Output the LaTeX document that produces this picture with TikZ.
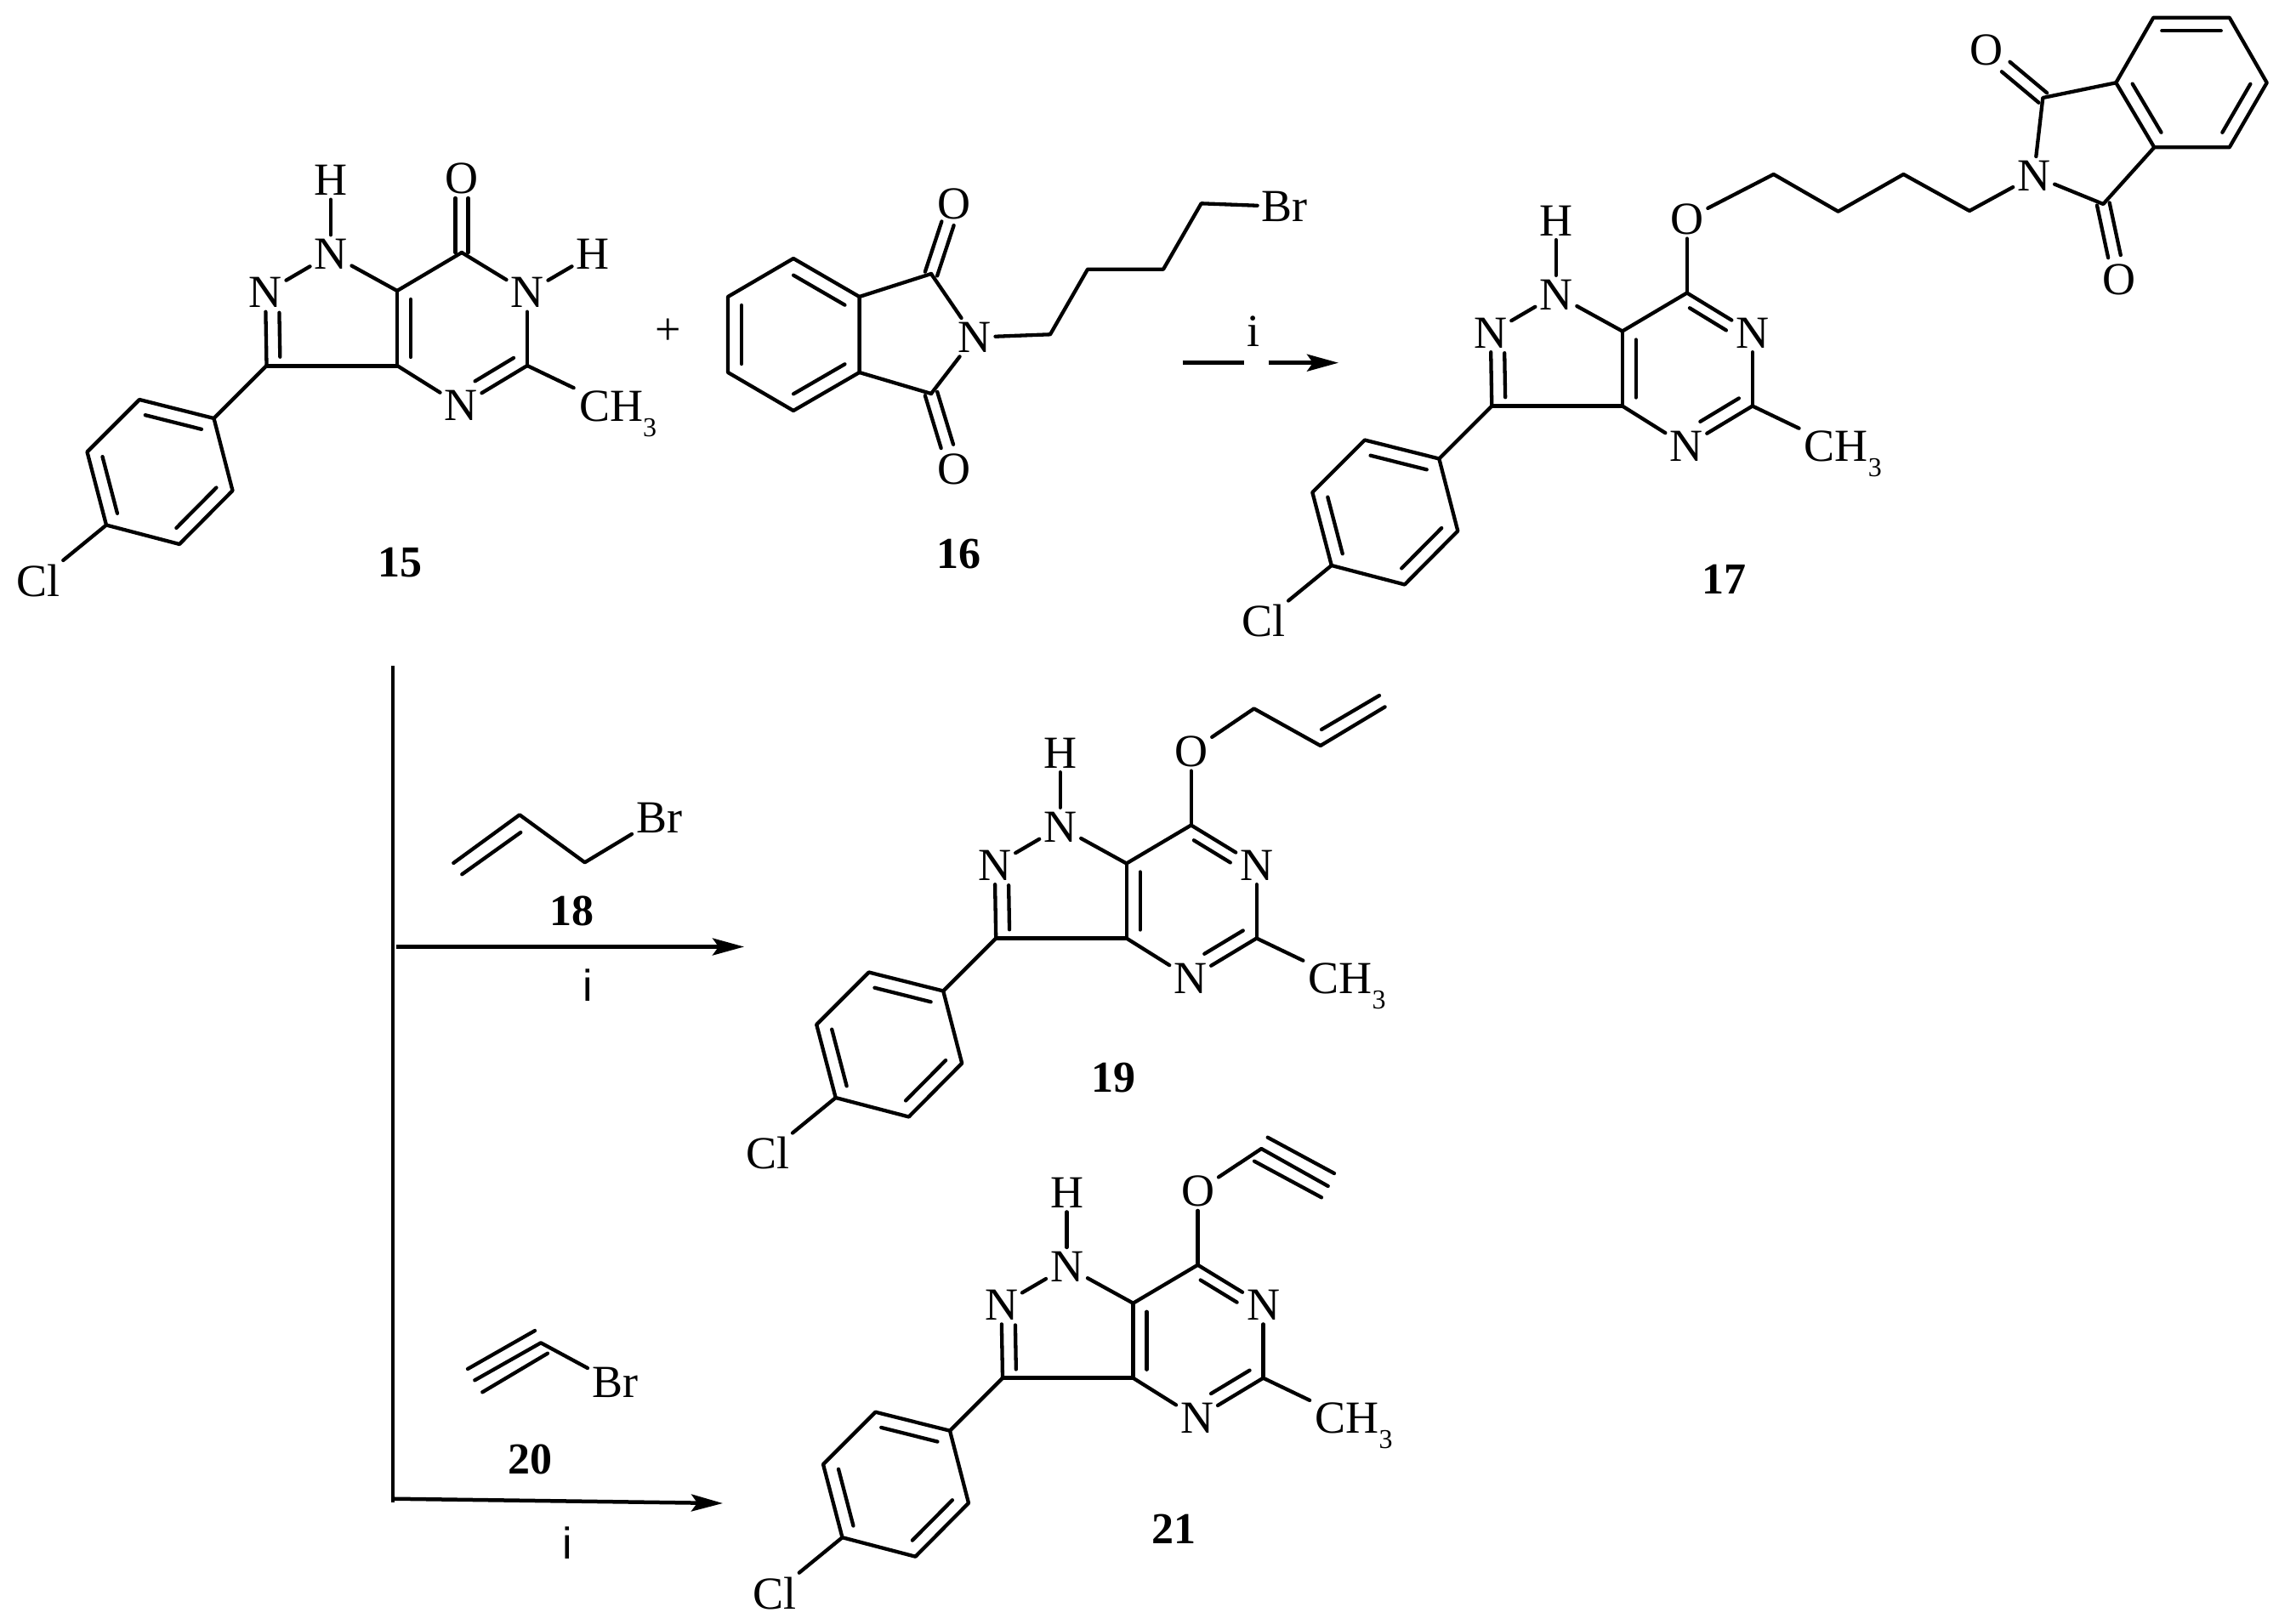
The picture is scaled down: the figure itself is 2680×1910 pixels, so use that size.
\documentclass[tikz,border=0pt]{standalone}
\usepackage{fontspec}
\setmainfont{Liberation Serif}
\newfontfamily\condsans{Liberation Sans}
\usetikzlibrary{calc,arrows.meta}
\newcommand\atomfont{\fontsize{54}{60}\selectfont}
\newcommand\methylthree{\raisebox{-18pt}{\fontsize{32}{32}\selectfont 3}}
\tikzset{
  bond/.style={line width=4.3pt,line cap=round,line join=round,black},
  heavybond/.style={line width=5pt,line cap=round,black},
  atom/.style={rectangle,inner sep=5pt,outer sep=0pt,font=\atomfont},
  methyl/.style={anchor=base west,rectangle,inner sep=0pt,outer sep=0pt,font=\atomfont},
  cpdlabel/.style={inner sep=0pt,font=\fontsize{52}{56}\selectfont\bfseries},
  condition/.style={inner sep=0pt,font=\atomfont},
  condsansnode/.style={inner sep=0pt,font=\fontsize{52}{56}\selectfont\condsans},
  branch/.style={line width=4pt,black},
  reaction/.style={line width=4.5pt,black,-{Stealth[length=37pt,width=20pt,inset=7pt]}}
}
% inner line of a double bond: from, to, offset, shorten start, shorten end
\newcommand\innerbond[5]{\draw[bond,shorten <=#4pt,shorten >=#5pt] ($(#1)!#3pt!90:(#2)$) -- ($(#2)!#3pt!-90:(#1)$);}
% symmetric double bond: from, to, shorten end
\newcommand\dblsym[3]{%
  \draw[bond,shorten >=#3pt] ($(#1)!7.5pt!90:(#2)$) -- ($(#2)!7.5pt!-90:(#1)$);
  \draw[bond,shorten >=#3pt] ($(#1)!7.5pt!-90:(#2)$) -- ($(#2)!7.5pt!90:(#1)$);}
% common pyrazolopyrimidine with chlorophenyl group
\newcommand\pyrcore[3]{%
  \begin{scope}[shift={(#2,#3)}]
    \coordinate (#1C3a) at (0,0);
    \coordinate (#1C3) at (-153.5,0);
    \coordinate (#1C7a) at (0,-88);
    \coordinate (#1C7) at (76,-133);
    \coordinate (#1C5) at (153,0);
    \coordinate (#1a) at (-215.5,62);
    \coordinate (#1b) at (-303,40);
    \coordinate (#1c) at (-364.5,101.5);
    \coordinate (#1d) at (-342,187.5);
    \coordinate (#1e) at (-256,210);
    \coordinate (#1f) at (-193.5,147);
    \node[atom] (#1N1) at (-78,-131) {N};
    \node[atom] (#1N2) at (-155,-86) {N};
    \node[atom] (#1H) at (-78,-218) {H};
    \node[atom] (#1N4) at (75,47) {N};
    \node[atom] (#1N6) at (153,-86) {N};
    \node[atom] (#1O) at (76,-220) {O};
    \node[atom] (#1Cl) at (-422,253) {Cl};
    \node[methyl] (#1Me) at (214,65) {CH\methylthree};
  \end{scope}
  \draw[bond] (#1H) -- (#1N1);
  \draw[bond] (#1N1) -- (#1N2);
  \draw[bond] (#1N1) -- (#1C7a);
  \draw[bond] (#1C7a) -- (#1C7);
  \draw[bond] (#1N2) -- (#1C3);
  \innerbond{#1N2}{#1C3}{16}{24}{10}
  \draw[heavybond] (#1C3) -- (#1C3a);
  \draw[bond] (#1C7a) -- (#1C3a);
  \innerbond{#1C7a}{#1C3a}{16}{10}{10}
  \draw[bond] (#1C3a) -- (#1N4);
  \draw[bond] (#1C5) -- (#1N4);
  \innerbond{#1C5}{#1N4}{-16}{9}{29}
  \draw[bond] (#1N6) -- (#1C5);
  \draw[bond,shorten >=7pt] (#1C5) -- (#1Me.north west);
  \draw[bond] (#1C3) -- (#1a);
  \draw[bond] (#1a) -- (#1b) -- (#1c) -- (#1d) -- (#1e) -- (#1f) -- cycle;
  \innerbond{#1a}{#1b}{16}{11}{11}
  \innerbond{#1c}{#1d}{16}{10}{10}
  \innerbond{#1e}{#1f}{16}{11}{11}
  \draw[bond] (#1d) -- (#1Cl);
}
\begin{document}
\begin{tikzpicture}[x=1pt,y=-1pt]
\useasboundingbox (0,0) rectangle (2680,1910);

% ---------- compound 15
\pyrcore{p}{467}{430}
\node[atom] (pH6) at (697,299) {H};
\draw[bond] (pN6) -- (pH6);
\draw[bond] (pC7) -- (pN6);
\dblsym{pC7}{pO}{23}
\node[cpdlabel] (l15) at (470,662) {15};
\node[condition] (plus) at (786,390) {+};

% ---------- compound 16
\coordinate (qC1) at (1095,322);
\coordinate (qC3) at (1095,463);
\coordinate (qa) at (1010.6,349);
\coordinate (qb) at (933,304);
\coordinate (qc) at (856,349);
\coordinate (qd) at (856,438);
\coordinate (qe) at (933,483);
\coordinate (qf) at (1010.6,438);
\coordinate (qs1) at (1235,393.3);
\coordinate (qs2) at (1279,316.7);
\coordinate (qs3) at (1368,316.7);
\coordinate (qs4) at (1412.6,239.3);
\node[atom] (qN) at (1146,396.7) {N};
\node[atom] (qO1) at (1122,240) {O};
\node[atom] (qO2) at (1122,551.7) {O};
\node[atom] (qBr) at (1510.6,243) {Br};
\node[cpdlabel] (l16) at (1127,652) {16};
\draw[bond] (qa) -- (qb) -- (qc) -- (qd) -- (qe) -- (qf) -- cycle;
\innerbond{qa}{qb}{17}{10}{10}
\innerbond{qc}{qd}{16}{10}{10}
\innerbond{qe}{qf}{17}{10}{10}
\draw[bond] (qa) -- (qC1);
\draw[bond] (qf) -- (qC3);
\draw[bond] (qC1) -- (qN);
\draw[bond] (qC3) -- (qN);
\dblsym{qC1}{qO1}{24}
\dblsym{qC3}{qO2}{28}
\draw[bond] (qN) -- (qs1) -- (qs2) -- (qs3) -- (qs4) -- (qBr);

% ---------- first arrow
\coordinate (ar1a) at (1390.7,426.7);
\coordinate (ar1b) at (1462.7,426.7);
\coordinate (ar1c) at (1491.7,426.7);
\coordinate (ar1d) at (1574,426.7);
\draw[line width=4.5pt] (ar1a) -- (ar1b);
\draw[reaction] (ar1c) -- (ar1d);
\node[condition] (i1) at (1474,390) {i};

% ---------- compound 17
\pyrcore{r}{1907.8}{477.5}
\draw[bond] (rC7) -- (rO);
\draw[bond] (rC7) -- (rN6);
\innerbond{rC7}{rN6}{-13.5}{12}{28}
\coordinate (rs1) at (2085.7,205);
\coordinate (rs2) at (2161.6,248.7);
\coordinate (rs3) at (2238.4,205);
\coordinate (rs4) at (2316,248);
\node[atom] (rNp) at (2391.7,206.7) {N};
\coordinate (rCa) at (2402.3,115);
\coordinate (rCb) at (2473.3,240);
\node[atom] (rOa) at (2335.7,59.3) {O};
\node[atom] (rOb) at (2492.3,329) {O};
\coordinate (rr1) at (2488.3,97.3);
\coordinate (rr2) at (2532.3,20.7);
\coordinate (rr3) at (2621.7,20.7);
\coordinate (rr4) at (2665.7,97.3);
\coordinate (rr5) at (2621.7,173.3);
\coordinate (rr6) at (2533.3,173.3);
\draw[bond] (rO) -- (rs1) -- (rs2) -- (rs3) -- (rs4) -- (rNp);
\draw[bond] (rNp) -- (rCa) -- (rr1);
\draw[bond] (rNp) -- (rCb) -- (rr6);
\dblsym{rCa}{rOa}{30}
\dblsym{rCb}{rOb}{28}
\draw[bond] (rr1) -- (rr2) -- (rr3) -- (rr4) -- (rr5) -- (rr6) -- cycle;
\innerbond{rr2}{rr3}{-15.5}{10}{10}
\innerbond{rr4}{rr5}{-16}{11}{11}
\innerbond{rr6}{rr1}{-16}{11}{11}
\node[cpdlabel] (l17) at (2027,681) {17};

% ---------- branching line and arrows
\coordinate (v1) at (462,783);
\coordinate (v2) at (462,1767);
\coordinate (h1) at (466,1113.5);
\coordinate (h1e) at (875,1113.5);
\coordinate (h2) at (462,1762.7);
\coordinate (h2e) at (850,1768);
\draw[branch] (v1) -- (v2);
\draw[reaction] (h1) -- (h1e);
\draw[reaction] (h2) -- (h2e);
\node[condsansnode] (i2) at (691.7,1158.3) {i};
\node[condsansnode] (i3) at (667.6,1815) {i};

% ---------- reagent 18
\coordinate (sa) at (533.3,1015);
\coordinate (sb) at (611,958.3);
\coordinate (sc) at (687.7,1014.3);
\coordinate (sd) at (543.3,1028.3);
\coordinate (se) at (612.3,979);
\node[atom] (sBr) at (775,961.7) {Br};
\draw[bond] (sa) -- (sb) -- (sc) -- (sBr);
\draw[bond] (sd) -- (se);
\node[cpdlabel] (l18) at (672.7,1071.7) {18};

% ---------- compound 19
\pyrcore{t}{1324.7}{1103.5}
\draw[bond] (tC7) -- (tO);
\draw[bond] (tC7) -- (tN6);
\innerbond{tC7}{tN6}{-13.5}{12}{28}
\coordinate (ta1) at (1474.6,833.4);
\coordinate (ta2) at (1552.8,877);
\coordinate (ta3) at (1628.6,831.4);
\coordinate (ta4) at (1554,858);
\coordinate (ta5) at (1622,818);
\draw[bond] (tO) -- (ta1) -- (ta2) -- (ta3);
\draw[bond] (ta4) -- (ta5);
\node[cpdlabel] (l19) at (1309,1268) {19};

% ---------- reagent 20
\coordinate (uC) at (636,1579.3);
\coordinate (ue) at (558.3,1623.3);
\coordinate (uf) at (629,1565);
\coordinate (ug) at (550,1610);
\coordinate (uh) at (644,1591.7);
\coordinate (uj) at (567.3,1637.3);
\node[atom] (uBr) at (723,1626.3) {Br};
\draw[bond] (ue) -- (uC) -- (uBr);
\draw[bond] (uf) -- (ug);
\draw[bond] (uh) -- (uj);
\node[cpdlabel] (l20) at (623,1716.7) {20};

% ---------- compound 21
\pyrcore{w}{1332.5}{1620.7}
\draw[bond] (wC7) -- (wO);
\draw[bond] (wC7) -- (wN6);
\innerbond{wC7}{wN6}{-13.5}{12}{28}
\coordinate (wa1) at (1483.3,1351);
\coordinate (wa2) at (1561.7,1395);
\coordinate (wa3) at (1490.7,1337.7);
\coordinate (wa4) at (1569,1380);
\coordinate (wa5) at (1475,1365.7);
\coordinate (wa6) at (1554,1408.3);
\draw[bond] (wO) -- (wa1) -- (wa2);
\draw[bond] (wa3) -- (wa4);
\draw[bond] (wa5) -- (wa6);
\node[cpdlabel] (l21) at (1380.5,1798.4) {21};
\end{tikzpicture}
\end{document}
